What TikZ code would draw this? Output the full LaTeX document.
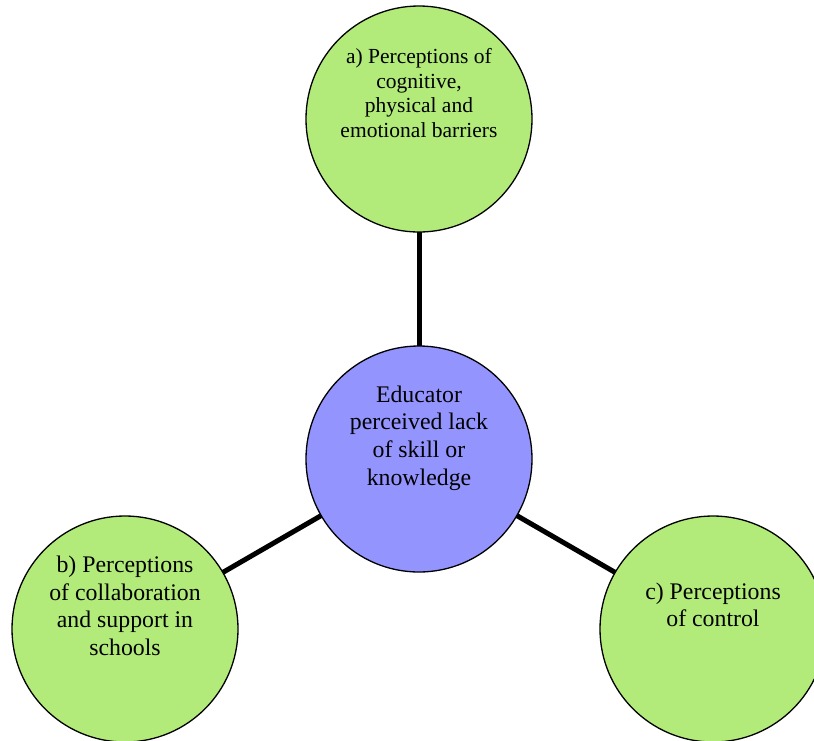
\documentclass[tikz,border=0pt]{standalone}
\usepackage{fontspec}
\setmainfont{Liberation Serif}
\definecolor{leafgreen}{RGB}{178,235,122}
\definecolor{hubblue}{RGB}{148,148,255}
\begin{document}
\begin{tikzpicture}[x=1pt,y=-1pt,
  bubble/.style={circle,draw=black,line width=1.3pt,minimum size=226pt,inner sep=0pt,outer sep=0pt},
  leaf/.style={bubble,fill=leafgreen},
  hub/.style={bubble,fill=hubblue},
  caption/.style={align=center,inner sep=0pt,font=\fontsize{23.8}{27.6}\selectfont},
  smallcaption/.style={align=center,inner sep=0pt,font=\fontsize{21.5}{24.6}\selectfont},
  link/.style={line width=5pt}]
\useasboundingbox (0,0) rectangle (814,740);
\node[hub]  (c) at (419,459) {};
\node[leaf] (a) at (419,119) {};
\node[leaf] (b) at (125,629) {};
\node[leaf] (r) at (713,629) {};
\draw[link] (c) -- (a);
\draw[link] (c) -- (b);
\draw[link] (c) -- (r);
\node[caption] (ct) at (419,438) {Educator\\perceived lack\\of skill or\\knowledge};
\node[smallcaption] (at) at (419,93) {a) Perceptions of\\cognitive,\\physical and\\emotional barriers};
\node[caption] (bt) at (125,606) {b) Perceptions\\of collaboration\\and support in\\schools};
\node[caption] (rt) at (713,605) {c) Perceptions\\of control};
\end{tikzpicture}
\end{document}
